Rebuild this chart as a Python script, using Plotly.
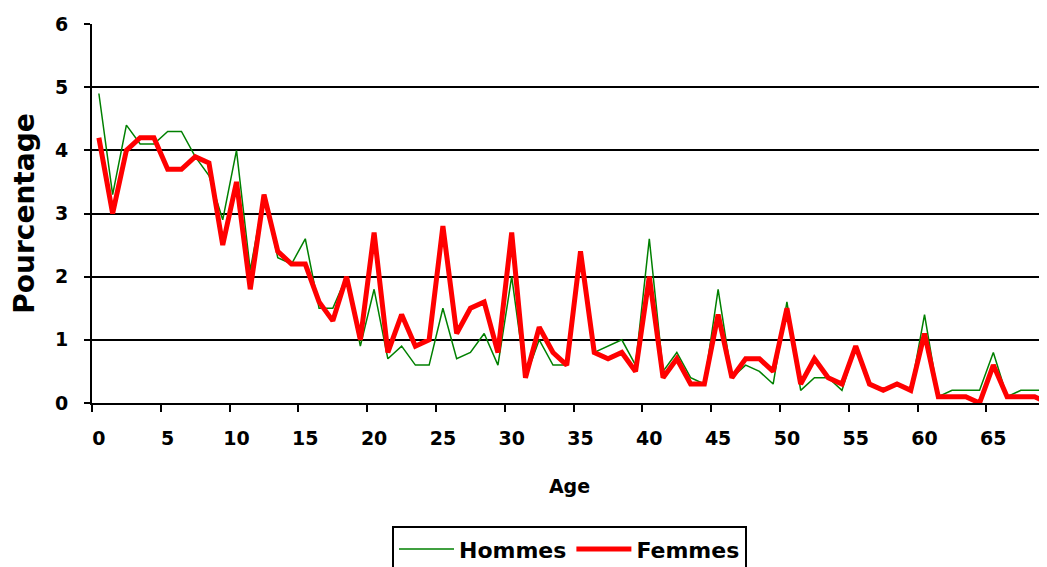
import plotly.graph_objects as go

ages = list(range(70))
hommes = [4.9, 3.3, 4.4, 4.1, 4.1, 4.3, 4.3, 3.9, 3.6, 2.9,
          4.0, 2.1, 3.3, 2.3, 2.2, 2.6, 1.5, 1.5, 2.0, 0.9,
          1.8, 0.7, 0.9, 0.6, 0.6, 1.5, 0.7, 0.8, 1.1, 0.6,
          2.0, 0.4, 1.0, 0.6, 0.6, 2.4, 0.8, 0.9, 1.0, 0.6,
          2.6, 0.5, 0.8, 0.4, 0.3, 1.8, 0.4, 0.6, 0.5, 0.3,
          1.6, 0.2, 0.4, 0.4, 0.2, 0.9, 0.3, 0.2, 0.3, 0.2,
          1.4, 0.1, 0.2, 0.2, 0.2, 0.8, 0.1, 0.2, 0.2, 0.2]
femmes = [4.2, 3.0, 4.0, 4.2, 4.2, 3.7, 3.7, 3.9, 3.8, 2.5,
          3.5, 1.8, 3.3, 2.4, 2.2, 2.2, 1.6, 1.3, 2.0, 1.0,
          2.7, 0.8, 1.4, 0.9, 1.0, 2.8, 1.1, 1.5, 1.6, 0.8,
          2.7, 0.4, 1.2, 0.8, 0.6, 2.4, 0.8, 0.7, 0.8, 0.5,
          2.0, 0.4, 0.7, 0.3, 0.3, 1.4, 0.4, 0.7, 0.7, 0.5,
          1.5, 0.3, 0.7, 0.4, 0.3, 0.9, 0.3, 0.2, 0.3, 0.2,
          1.1, 0.1, 0.1, 0.1, 0.0, 0.6, 0.1, 0.1, 0.1, 0.0]
x_labels = list(range(0, 70, 5))

FONT = "DejaVu Sans"

fig = go.Figure()
fig.add_trace(go.Scatter(x=ages, y=hommes, mode="lines", name="Hommes",
                         line=dict(color="#008000", width=1.5)))
fig.add_trace(go.Scatter(x=ages, y=femmes, mode="lines", name="Femmes",
                         line=dict(color="#FF0000", width=5)))

# the page body adds an 8px margin, so the figure is sized to fit inside it
fig.update_layout(
    width=1039, height=559,
    margin=dict(l=84, r=0, t=16, b=164, autoexpand=False),
    paper_bgcolor="white", plot_bgcolor="white",
    font=dict(family=FONT, color="black", size=19, weight="bold"),
    showlegend=True,
    legend=dict(orientation="h", x=0.5, xanchor="center", y=-0.325, yanchor="top",
                bordercolor="black", borderwidth=2, itemwidth=55,
                font=dict(family=FONT, size=22, weight="bold")),
    xaxis=dict(
        range=[-0.5, 68.9], automargin=False,
        tickvals=x_labels, ticktext=[str(v) for v in x_labels],
        ticks="", showgrid=False, zeroline=False,
        showline=True, linecolor="black", linewidth=2,
        ticklabelstandoff=17,
        tickfont=dict(family=FONT, size=19, weight="bold"),
        minor=dict(ticks="outside", tick0=-0.5, dtick=5, ticklen=7,
                   tickcolor="black", tickwidth=2, showgrid=False),
        title=dict(text="Age", standoff=32,
                   font=dict(family=FONT, size=19, weight="bold")),
    ),
    yaxis=dict(
        range=[0, 6], tickvals=[0, 1, 2, 3, 4, 5, 6], automargin=False,
        ticks="outside", ticklen=6, tickcolor="black", tickwidth=2,
        showgrid=True, gridcolor="black", gridwidth=2,
        zeroline=False, showline=True, linecolor="black", linewidth=2,
        ticklabelstandoff=12,
        tickfont=dict(family=FONT, size=19, weight="bold"),
        title=dict(text="Pourcentage", standoff=20,
                   font=dict(family=FONT, size=28, weight="bold")),
    ),
)

fig.write_html("out.html")
